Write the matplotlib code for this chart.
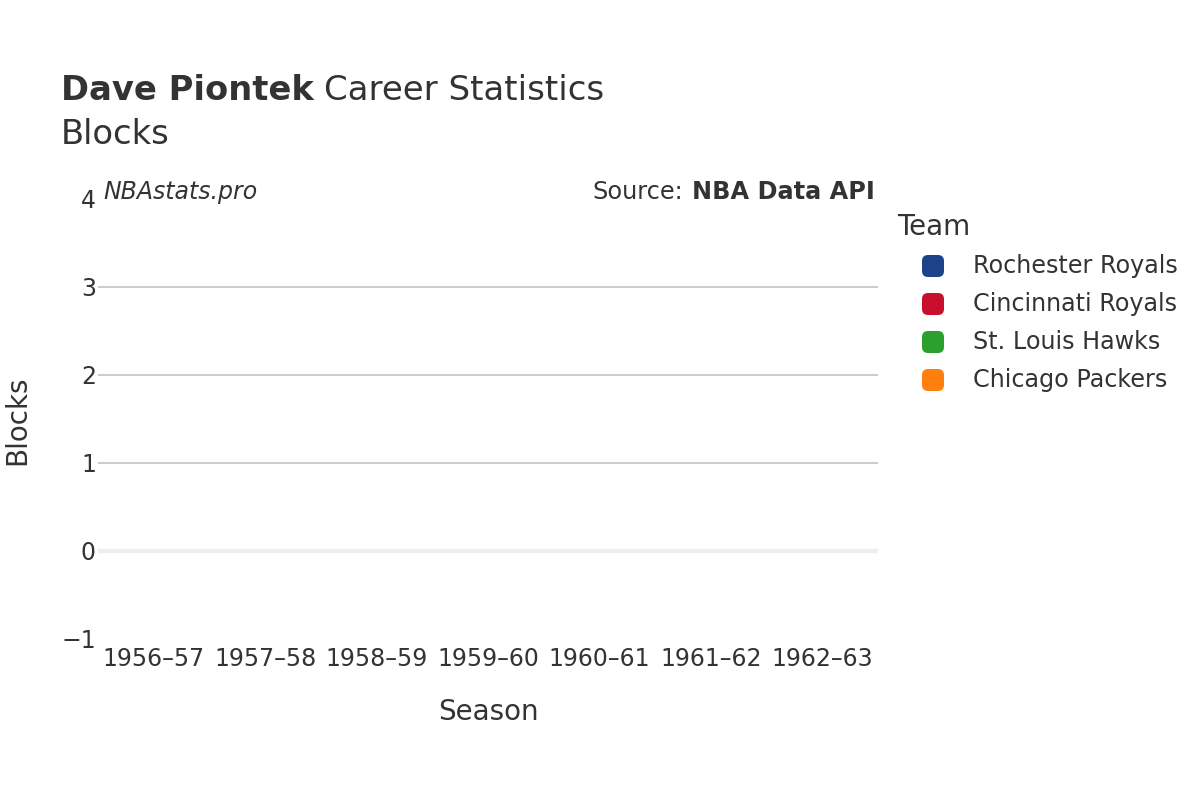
import matplotlib
matplotlib.use("Agg")
import matplotlib.pyplot as plt
from matplotlib.patches import FancyBboxPatch

seasons = ["1956–57", "1957–58", "1958–59", "1959–60", "1960–61", "1961–62", "1962–63"]
season_teams = ["Rochester Royals", "Cincinnati Royals", "Cincinnati Royals", "St. Louis Hawks",
                "St. Louis Hawks", "Chicago Packers", "Chicago Packers"]
blocks = [0, 0, 0, 0, 0, 0, 0]
teams = ["Rochester Royals", "Cincinnati Royals", "St. Louis Hawks", "Chicago Packers"]
team_colors = ["#1d428a", "#c8102e", "#2ca02c", "#ff7f0e"]
yticks = [-1, 0, 1, 2, 3, 4]

plt.rcParams['font.family'] = ['DejaVu Sans']
fig = plt.figure(figsize=(12, 8), dpi=100)
ax = fig.add_axes([98/1200, 1-639/800, 780/1200, 440/800])
txt = "#333333"

cmap = dict(zip(teams, team_colors))
x = list(range(len(seasons)))
ax.bar(x, blocks, color=[cmap[t] for t in season_teams], width=0.8)

ax.set_xlim(-0.5, len(seasons) - 0.5)
ax.set_ylim(-1, 4)
for v in [1, 2, 3]:
    ax.axhline(v, color="#c8c8c8", lw=1.3, zorder=0)
ax.axhline(0, color="#eeeeee", lw=3, zorder=0)
for s in ax.spines.values():
    s.set_visible(False)
ax.set_yticks(yticks)
ax.set_yticklabels([str(v).replace("-", "−") for v in yticks])
ax.set_xticks(x)
ax.set_xticklabels(seasons)
ax.tick_params(axis="both", length=0, labelsize=17, colors=txt)
ax.tick_params(axis="y", pad=1.5)
ax.tick_params(axis="x", pad=6)

fig.canvas.draw()
r = fig.canvas.get_renderer()

t1 = fig.text(61/1200, 1-90/800, "Dave Piontek", fontsize=24.3, fontweight="bold", color=txt, va="center")
bb = t1.get_window_extent(r)
fig.text((bb.x1 + 10)/1200, 1-90/800, "Career Statistics", fontsize=24.5, color=txt, va="center")
fig.text(61/1200, 1-134/800, "Blocks", fontsize=24.3, color=txt, va="center")

fig.text(103/1200, 1-192/800, "NBAstats.pro", fontsize=17, style="italic", color=txt, va="center")
t2 = fig.text(875/1200, 1-192/800, "NBA Data API", fontsize=17.3, fontweight="bold", color=txt, va="center", ha="right")
bb2 = t2.get_window_extent(r)
fig.text((bb2.x0 - 9)/1200, 1-192/800, "Source:", fontsize=17.3, color=txt, va="center", ha="right")

fig.text(17/1200, 1-420/800, "Blocks", fontsize=20, rotation=90, color=txt, va="center", ha="center")
fig.text(488/1200, 1-712/800, "Season", fontsize=20, color=txt, va="center", ha="center")

fig.text(897/1200, 1-227/800, "Team", fontsize=20, color=txt, va="center")
for i, (t, c) in enumerate(zip(teams, team_colors)):
    yc = 266 + i * 38
    box = FancyBboxPatch(((933 - 11)/1200, 1-(yc + 11)/800), 22/1200, 22/800,
                         boxstyle="round,pad=0,rounding_size=0.005", transform=fig.transFigure,
                         facecolor=c, edgecolor="none", mutation_aspect=1.5)
    fig.patches.append(box)
    fig.text(973/1200, 1-yc/800, t, fontsize=17.2, color=txt, va="center")

fig.savefig("out.png", dpi=100, facecolor="white")
